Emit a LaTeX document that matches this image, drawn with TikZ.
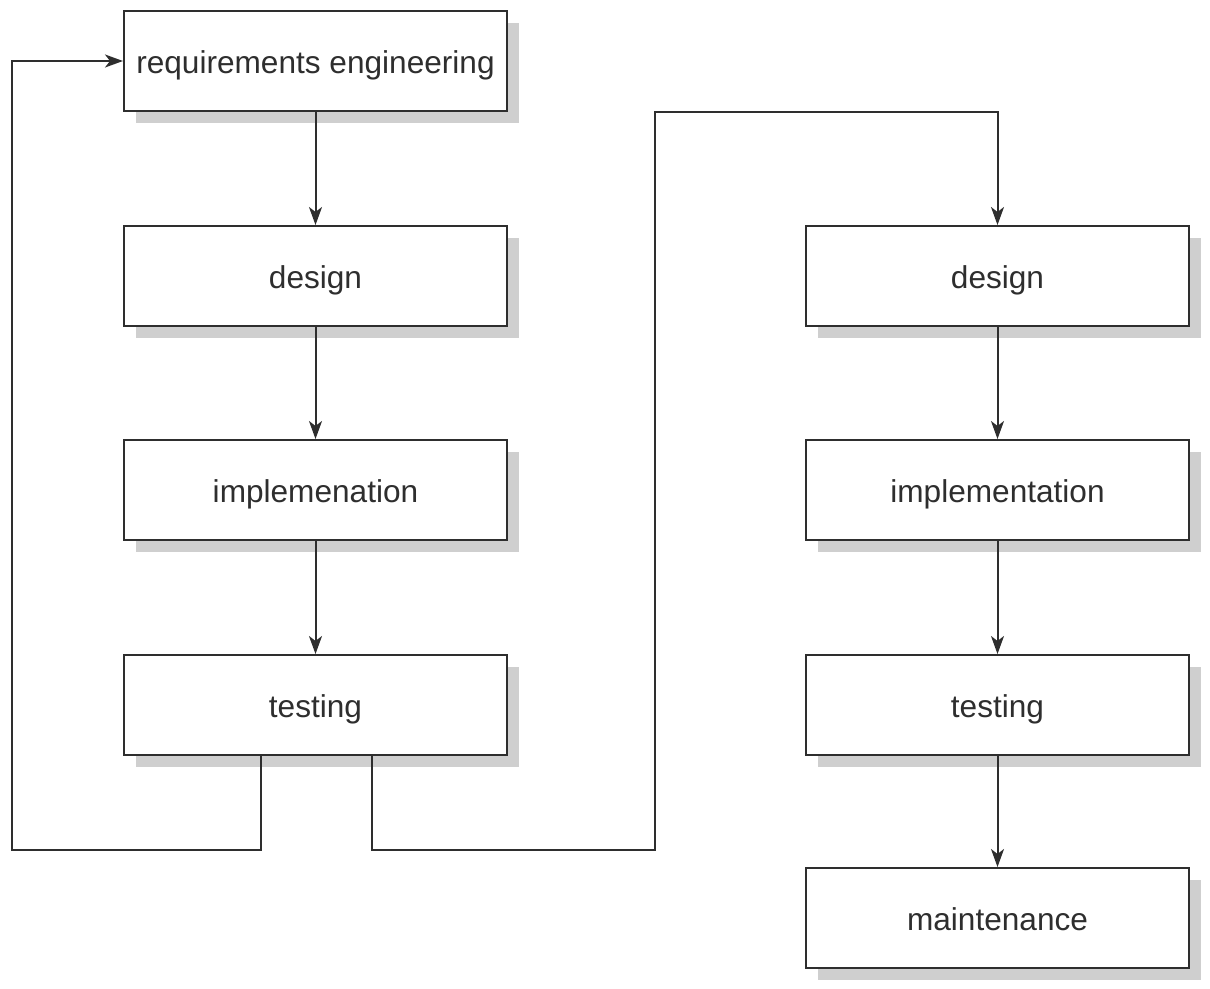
\documentclass[tikz,border=0pt]{standalone}
\usepackage{fontspec}
\setmainfont{Liberation Sans}
\usetikzlibrary{arrows.meta,shadows,calc}
\definecolor{ink}{HTML}{2E2E2E}
\definecolor{shade}{HTML}{CFCFCF}
\tikzset{
  stagebox/.style={draw=ink, line width=2pt, fill=white, minimum width=383pt, minimum height=100pt,
    inner sep=0pt, text=ink, font=\fontsize{31.6}{36}\selectfont, text height=32pt, text depth=7pt,
    general shadow={fill=shade, draw=none, shadow xshift=12pt, shadow yshift=-12pt}},
  flow/.style={draw=ink, line width=2pt, -{Stealth[length=18pt,width=13pt,inset=5pt]}}
}
\begin{document}
\begin{tikzpicture}[x=1pt,y=-1pt]
\useasboundingbox (0,0) rectangle (1210,988);
\node[stagebox] (req) at (315.5,61) {requirements engineering};
\node[stagebox] (d1) at (315.5,276) {design};
\node[stagebox] (i1) at (315.5,490) {implemenation};
\node[stagebox] (t1) at (315.5,705) {testing};
\node[stagebox] (d2) at (997.5,276) {design};
\node[stagebox] (i2) at (997.5,490) {implementation};
\node[stagebox] (t2) at (997.5,705) {testing};
\node[stagebox] (m2) at (997.5,918) {maintenance};
\coordinate (loopL) at (12,850);
\coordinate (midB) at (655,850);
\coordinate (midT) at (655,112);
\draw[flow] (req) -- (d1);
\draw[flow] (d1) -- (i1);
\draw[flow] (i1) -- (t1);
\draw[flow] (d2) -- (i2);
\draw[flow] (i2) -- (t2);
\draw[flow] (t2) -- (m2);
\draw[flow] ([xshift=-55pt]t1.south) |- (loopL) |- (req.west);
\draw[flow] ([xshift=56.5pt]t1.south) |- (midB) -- (midT) -| (d2.north);
\end{tikzpicture}
\end{document}
